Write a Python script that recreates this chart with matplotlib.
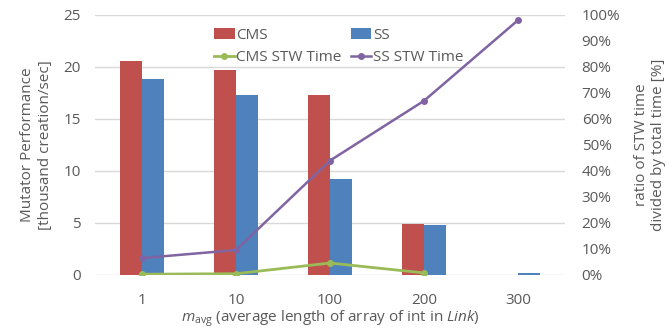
import matplotlib
matplotlib.use("Agg")
import matplotlib.pyplot as plt
import numpy as np
from matplotlib.ticker import PercentFormatter

categories = ["1", "10", "100", "200", "300"]
cms_perf = [20.6, 19.75, 17.3, 4.9, 0.0]
ss_perf = [18.85, 17.35, 9.2, 4.8, 0.2]
cms_stw = [0.3, 0.5, 4.6, 0.8]          # percent, no value at 300
ss_stw = [6.5, 9.6, 44.0, 67.0, 98.0]   # percent

plt.rcParams['font.family'] = ['Open Sans', 'DejaVu Sans']
plt.rcParams['mathtext.fontset'] = 'custom'
plt.rcParams['mathtext.rm'] = 'Open Sans'
plt.rcParams['mathtext.it'] = 'Open Sans:italic'

grey = '#595959'
fig = plt.figure(figsize=(6.67, 3.29), dpi=100)
ax = fig.add_axes([95/667, 1-275/329, 470/667, 260/329])
x = np.arange(len(categories))
w = 0.234
b1 = ax.bar(x - w/2, cms_perf, w, color='#C0504D', label='CMS', zorder=2)
b2 = ax.bar(x + w/2, ss_perf, w, color='#4F81BD', label='SS', zorder=2)
ax.set_xlim(-0.5, len(categories) - 0.5)
ax.set_ylim(0, 25)
ax.set_yticks([0, 5, 10, 15, 20, 25])
ax.yaxis.grid(True, color='#d9d9d9', linewidth=1, zorder=0)
ax.set_axisbelow(True)
for s in ax.spines.values():
    s.set_visible(False)
ax.tick_params(axis='both', length=0, colors=grey, labelsize=11)
ax.tick_params(axis='y', pad=10)
ax.tick_params(axis='x', pad=13)
ax.set_xticks(x)
ax.set_xticklabels(categories)
ax.set_xlabel(r"$m_{\rm avg}$ (average length of array of int in $Link$)", color=grey, fontsize=11, labelpad=0)
ax.set_ylabel("Mutator Performance\n[thousand creation/sec]", color=grey, fontsize=11, labelpad=8)

ax2 = ax.twinx()
ax2.set_position(ax.get_position())
l1, = ax2.plot(x[:len(cms_stw)], cms_stw, color='#9BBB59', marker='o', markersize=4, linewidth=2, label='CMS STW Time')
l2, = ax2.plot(x, ss_stw, color='#8064A2', marker='o', markersize=4, linewidth=1.8, label='SS STW Time')
ax2.set_ylim(0, 100)
ax2.set_yticks(np.arange(0, 101, 10))
ax2.yaxis.set_major_formatter(PercentFormatter(decimals=0))
for s in ax2.spines.values():
    s.set_visible(False)
ax2.tick_params(axis='y', length=0, colors=grey, labelsize=11, pad=12)
ax2.set_ylabel("ratio of STW time\ndivided by total time [%]", color=grey, fontsize=11, labelpad=10)

leg = ax2.legend([b1, l1, b2, l2], ['CMS', 'CMS STW Time', 'SS', 'SS STW Time'], ncol=2,
                 loc='upper left', bbox_to_anchor=(0.24, 0.975), frameon=False, fontsize=11,
                 handlelength=1.35, handletextpad=0.1, columnspacing=0.6, labelspacing=0.5,
                 borderaxespad=0)
for t in leg.get_texts():
    t.set_color(grey)

fig.savefig('out.png', dpi=100)
